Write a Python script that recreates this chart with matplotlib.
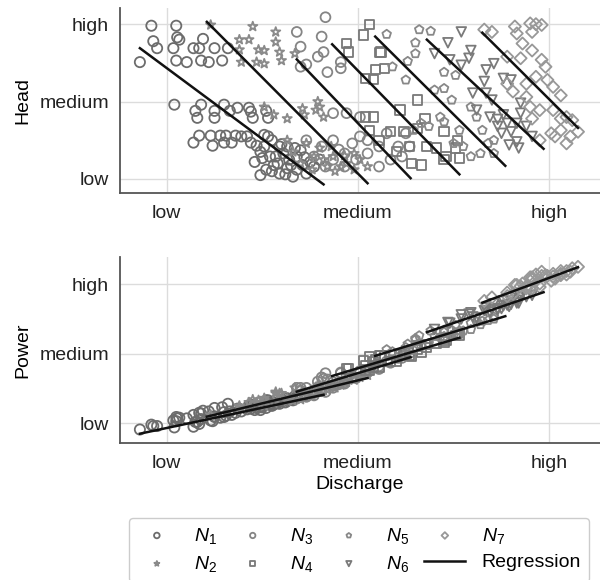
import matplotlib
matplotlib.use("Agg")
import matplotlib.pyplot as plt
from matplotlib.lines import Line2D

plt.rcParams['font.family'] = ['Liberation Sans', 'DejaVu Sans']
plt.rcParams['mathtext.fontset'] = 'custom'
plt.rcParams['mathtext.it'] = 'Liberation Sans:italic'
plt.rcParams['mathtext.rm'] = 'Liberation Sans'

# ---------------- data (discharge Q, head H, power P) ----------------
N1_Q = [-0.14, -0.08, -0.07, -0.05, 0.035, 0.05, 0.055, 0.05, 0.105, 0.14, 0.17, 0.18, 0.19, 0.22, 0.25, 0.29, 0.32, 0.066,
        0.04, 0.15, 0.16, 0.18, 0.25, 0.25, 0.30, 0.33, 0.37, 0.43, 0.45, 0.52, 0.53, 0.44,
        0.14, 0.17, 0.23, 0.24, 0.28, 0.30, 0.31, 0.34, 0.36, 0.39, 0.42, 0.44, 0.47, 0.51, 0.51, 0.53, 0.55,
        0.49, 0.52, 0.56, 0.59, 0.63, 0.57, 0.61, 0.64, 0.68, 0.71, 0.66, 0.73, 0.77, 0.80, 0.54, 0.59, 0.49, 0.63, 0.70,
        0.46, 0.50, 0.55, 0.58, 0.62, 0.65, 0.68, 0.72, 0.75, 0.60, 0.67]
N1_H = [1.51, 1.98, 1.78, 1.69, 1.69, 1.98, 1.83, 1.53, 1.51, 1.69, 1.69, 1.53, 1.81, 1.51, 1.69, 1.53, 1.69, 1.80,
        0.96, 0.88, 0.79, 0.96, 0.88, 0.79, 0.96, 0.88, 0.92, 0.92, 0.79, 0.88, 0.79, 0.87,
        0.47, 0.56, 0.56, 0.43, 0.56, 0.47, 0.56, 0.47, 0.56, 0.55, 0.55, 0.47, 0.43, 0.57, 0.42, 0.55, 0.50,
        0.05, 0.12, 0.18, 0.07, 0.14, 0.29, 0.33, 0.25, 0.29, 0.18, 0.03, 0.07, 0.16, 0.25, 0.29, 0.42, 0.35, 0.42, 0.37,
        0.22, 0.27, 0.10, 0.20, 0.06, 0.18, 0.12, 0.28, 0.22, 0.45, 0.40]
N1_P = [-0.09, -0.02, -0.04, -0.04, 0.04, 0.09, 0.07, 0.03, 0.07, 0.12, 0.15, 0.14, 0.18, 0.17, 0.22, 0.23, 0.28, 0.08,
        -0.06, 0.02, 0.02, 0.06, 0.10, 0.09, 0.16, 0.17, 0.21, 0.26, 0.26, 0.33, 0.33, 0.26,
        -0.05, -0.01, 0.04, 0.03, 0.08, 0.09, 0.11, 0.12, 0.15, 0.17, 0.20, 0.21, 0.22, 0.28, 0.26, 0.29, 0.30,
        0.19, 0.22, 0.27, 0.28, 0.32, 0.29, 0.33, 0.34, 0.38, 0.39, 0.33, 0.39, 0.44, 0.48, 0.27, 0.32, 0.23, 0.36, 0.41,
        0.19, 0.23, 0.25, 0.29, 0.30, 0.34, 0.36, 0.41, 0.43, 0.34, 0.39]

N2_Q = [0.23, 0.45, 0.38, 0.43, 0.38, 0.39, 0.48, 0.51, 0.57, 0.57, 0.59, 0.60, 0.47, 0.51, 0.67,
        0.79, 0.80, 0.78, 0.82, 0.63, 0.72, 0.56, 0.51, 0.71,
        0.73, 0.80, 0.87, 0.94, 0.98, 0.91, 0.84, 0.77, 0.98, 1.01, 1.05,
        0.66, 0.70, 0.76, 0.82, 0.88, 0.93, 0.86, 0.63]
N2_H = [1.99, 1.97, 1.80, 1.80, 1.67, 1.51, 1.67, 1.66, 1.90, 1.77, 1.64, 1.53, 1.51, 1.49, 1.62,
        1.00, 0.93, 0.89, 0.80, 0.78, 0.83, 0.83, 0.93, 0.91,
        0.46, 0.40, 0.29, 0.20, 0.12, 0.16, 0.16, 0.29, 0.33, 0.25, 0.16,
        0.35, 0.20, 0.12, 0.25, 0.10, 0.30, 0.42, 0.50]
N2_P = [0.12, 0.34, 0.25, 0.30, 0.23, 0.21, 0.33, 0.36, 0.45, 0.43, 0.43, 0.43, 0.30, 0.33, 0.51,
        0.55, 0.55, 0.52, 0.55, 0.35, 0.45, 0.29, 0.25, 0.45,
        0.41, 0.47, 0.53, 0.59, 0.62, 0.55, 0.48, 0.43, 0.64, 0.66, 0.69,
        0.32, 0.34, 0.39, 0.47, 0.51, 0.59, 0.54, 0.32]

N3_Q = [0.68, 0.70, 0.81, 0.83, 0.79, 0.82, 0.84, 0.91, 0.70, 0.73, 0.91,
        0.87, 0.94, 1.01,
        0.73, 0.81, 0.87, 0.93, 0.99, 1.05, 1.11, 1.17, 1.21, 1.11, 1.05, 0.97, 0.87, 0.83, 0.77, 0.93, 1.15, 1.25, 1.23, 1.27, 1.01, 0.90]
N3_H = [1.90, 1.71, 1.84, 2.09, 1.58, 1.64, 1.38, 1.43, 1.45, 1.48, 1.51,
        0.85, 0.85, 0.80,
        0.50, 0.42, 0.50, 0.33, 0.25, 0.33, 0.16, 0.25, 0.42, 0.42, 0.50, 0.46, 0.25, 0.16, 0.29, 0.16, 0.59, 0.59, 0.29, 0.42, 0.55, 0.38]
N3_P = [0.51, 0.51, 0.66, 0.72, 0.60, 0.64, 0.63, 0.72, 0.47, 0.51, 0.73,
        0.59, 0.68, 0.75,
        0.38, 0.46, 0.54, 0.59, 0.65, 0.73, 0.78, 0.87, 0.94, 0.82, 0.76, 0.66, 0.51, 0.45, 0.40, 0.57, 0.89, 1.01, 0.94, 1.01, 0.72, 0.56]

N4_Q = [1.06, 1.03, 1.12, 1.09, 1.14, 0.94, 0.95, 1.115, 1.04, 1.08,
        1.22, 1.31, 1.35, 1.08, 1.04, 1.17, 1.24, 1.28, 1.33, 1.41, 1.45, 1.53, 1.46, 1.52, 1.27, 1.20, 1.36, 1.31, 1.06, 1.11, 1.45, 1.51]
N4_H = [2.00, 1.86, 1.64, 1.41, 1.43, 1.75, 1.64, 1.63, 1.30, 1.29,
        0.89, 1.02, 0.78, 0.80, 0.80, 0.61, 0.61, 0.20, 0.18, 0.40, 0.61, 0.27, 0.29, 0.50, 0.42, 0.35, 0.42, 0.65, 0.63, 0.50, 0.25, 0.40]
N4_P = [0.96, 0.90, 0.98, 0.91, 0.97, 0.78, 0.78, 0.97, 0.83, 0.88,
        0.99, 1.11, 1.13, 0.81, 0.76, 0.89, 0.97, 0.96, 1.02, 1.15, 1.22, 1.27, 1.19, 1.29, 0.98, 0.89, 1.09, 1.06, 0.76, 0.81, 1.17, 1.26]

N5_Q = [1.15, 1.32, 1.38, 1.30, 1.30, 1.26, 1.18, 1.25, 1.45, 1.51, 1.45, 1.40, 1.49, 1.43, 1.37,
        1.45, 1.53, 1.59, 1.62, 1.65, 1.59, 1.64, 1.68, 1.71, 1.71, 1.50, 1.55, 1.29, 1.33]
N5_H = [1.87, 1.93, 1.91, 1.76, 1.62, 1.52, 1.45, 1.28, 1.38, 1.34, 1.17, 1.15, 1.02, 0.80, 0.68,
        0.74, 0.63, 0.93, 0.80, 0.63, 0.29, 0.33, 0.46, 0.50, 0.33, 0.46, 0.42, 0.63, 0.72]
N5_P = [1.06, 1.26, 1.33, 1.22, 1.20, 1.14, 1.03, 1.09, 1.34, 1.41, 1.31, 1.25, 1.34, 1.24, 1.15,
        1.25, 1.33, 1.44, 1.46, 1.47, 1.35, 1.42, 1.48, 1.53, 1.50, 1.27, 1.33, 1.05, 1.11]

N6_Q = [1.54, 1.47, 1.40, 1.59, 1.58, 1.54, 1.67, 1.66, 1.71, 1.76, 1.80, 1.67, 1.60, 1.70, 1.62, 1.69,
        1.76, 1.85, 1.85, 1.73, 1.75, 1.80, 1.83, 1.88, 1.91, 1.83, 1.79, 1.84, 1.78, 1.73, 1.48]
N6_H = [1.90, 1.76, 1.62, 1.66, 1.56, 1.47, 1.41, 1.26, 1.49, 1.30, 1.28, 1.11, 1.11, 1.02, 0.89, 0.80,
        0.83, 0.98, 0.85, 0.68, 0.59, 0.61, 0.72, 0.68, 0.55, 0.48, 0.44, 0.40, 0.72, 0.77, 1.54]
N6_P = [1.56, 1.45, 1.35, 1.59, 1.57, 1.50, 1.66, 1.62, 1.72, 1.76, 1.80, 1.62, 1.53, 1.64, 1.52, 1.60,
        1.69, 1.83, 1.81, 1.63, 1.65, 1.71, 1.77, 1.82, 1.84, 1.73, 1.68, 1.73, 1.70, 1.65, 1.44]

N7_Q = [1.66, 1.70, 1.82, 1.83, 1.90, 1.93, 1.96, 1.91, 1.86, 1.91, 1.85, 1.96, 1.98, 1.93, 1.99, 2.02, 2.06, 1.78,
        1.78, 1.81, 1.88, 1.90, 1.95, 1.91, 2.02, 2.06, 2.09, 2.12, 2.15, 2.11, 2.06, 2.01, 1.95, 2.03, 2.09, 1.88]
N7_H = [1.93, 1.90, 1.97, 1.88, 2.01, 2.00, 1.99, 1.90, 1.75, 1.66, 1.56, 1.54, 1.45, 1.32, 1.28, 1.19, 1.08, 1.58,
        1.23, 1.13, 1.06, 0.93, 0.89, 0.78, 0.89, 0.78, 0.80, 0.76, 0.61, 0.55, 0.63, 0.59, 0.50, 0.55, 0.46, 1.23]
N7_P = [1.76, 1.81, 1.99, 1.99, 2.10, 2.14, 2.18, 2.10, 2.01, 2.07, 1.97, 2.12, 2.13, 2.05, 2.12, 2.15, 2.19, 1.88,
        1.83, 1.86, 1.94, 1.95, 2.01, 1.94, 2.11, 2.15, 2.19, 2.23, 2.25, 2.18, 2.13, 2.05, 1.96, 2.08, 2.14, 1.97]

# regression line end points per group
REG_Q_START = [-0.14, 0.21, 0.68, 0.865, 1.09, 1.36, 1.65]
REG_Q_END = [0.82, 1.05, 1.275, 1.53, 1.77, 1.97, 2.15]
REG_H_START = [1.69, 2.03, 1.545, 1.74, 1.84, 1.80, 1.89]
REG_H_END = [-0.07, -0.055, 0.01, 0.06, 0.17, 0.39, 0.66]
REG_P_START = [-0.15, 0.095, 0.455, 0.68, 0.97, 1.31, 1.735]
REG_P_END = [0.41, 0.65, 0.95, 1.23, 1.54, 1.885, 2.245]

TICK_POS = [0, 1, 2]
TICK_LABELS = ['low', 'medium', 'high']
GROUP_LABELS = ['$N_1$', '$N_2$', '$N_3$', '$N_4$', '$N_5$', '$N_6$', '$N_7$']

groups = [(N1_Q, N1_H, N1_P), (N2_Q, N2_H, N2_P), (N3_Q, N3_H, N3_P), (N4_Q, N4_H, N4_P),
          (N5_Q, N5_H, N5_P), (N6_Q, N6_H, N6_P), (N7_Q, N7_H, N7_P)]

# ---------------- styles ----------------
markers = ['o', '*', 'o', 's', 'p', 'v', 'D']
sizes = [54, 48, 50, 44, 42, 48, 38]
colors = ['#6c6c6c', '#8a8a8a', '#858585', '#787878', '#888888', '#7a7a7a', '#989898']

fig = plt.figure(figsize=(6.0, 5.8), dpi=100)
ax1 = fig.add_axes([0.2, 0.6678, 0.8, 0.318])
ax2 = fig.add_axes([0.2, 0.2367, 0.8, 0.320])

for ax in (ax1, ax2):
    ax.set_facecolor('white')
    ax.grid(True, color='#dcdcdc', linewidth=1.0)
    ax.set_axisbelow(True)
    for s in ('top', 'right'):
        ax.spines[s].set_visible(False)
    for s in ('left', 'bottom'):
        ax.spines[s].set_color('#555555')
        ax.spines[s].set_linewidth(1.3)
    ax.set_xlim(-0.244, 2.265)
    ax.set_xticks(TICK_POS)
    ax.set_xticklabels(TICK_LABELS)
    ax.set_yticks(TICK_POS)
    ax.set_yticklabels(TICK_LABELS)
    ax.tick_params(axis='both', length=0, labelsize=14, colors='#222222')
    ax.tick_params(axis='x', pad=9)
    ax.tick_params(axis='y', pad=8)

ax1.set_ylim(-0.177, 2.206)
ax2.set_ylim(-0.28, 2.39)

handles = []
for i, (q, h, p) in enumerate(groups):
    mk = markers[i]
    sc = ax1.scatter(q, h, marker=mk, s=sizes[i], facecolors='none', edgecolors=colors[i],
                     linewidths=1.3, label=GROUP_LABELS[i], zorder=2)
    ax2.scatter(q, p, marker=mk, s=sizes[i], facecolors='none', edgecolors=colors[i],
                linewidths=1.3, zorder=2)
    handles.append(sc)

for i in range(len(REG_Q_START)):
    ax1.plot([REG_Q_START[i], REG_Q_END[i]], [REG_H_START[i], REG_H_END[i]],
             color='#111111', linewidth=1.8, zorder=3)
    ax2.plot([REG_Q_START[i], REG_Q_END[i]], [REG_P_START[i], REG_P_END[i]],
             color='#111111', linewidth=1.8, zorder=3)

ax1.set_ylabel('Head', fontsize=14, labelpad=6)
ax2.set_ylabel('Power', fontsize=14, labelpad=6)
ax2.set_xlabel('Discharge', fontsize=14, labelpad=3)

reg_handle = Line2D([0], [0], color='#111111', linewidth=1.8)
handles.append(reg_handle)
labels = GROUP_LABELS + ['Regression']
leg = fig.legend(handles, labels, ncol=4, loc='upper center',
                 bbox_to_anchor=(0.598, 0.124), bbox_transform=fig.transFigure,
                 fontsize=14, markerscale=0.55, handlelength=2.1, handletextpad=0.85,
                 columnspacing=0.8, labelspacing=0.42, borderpad=0.4,
                 frameon=True, fancybox=True, edgecolor='#cccccc', framealpha=1.0)

fig.savefig('out.png', dpi=100)
